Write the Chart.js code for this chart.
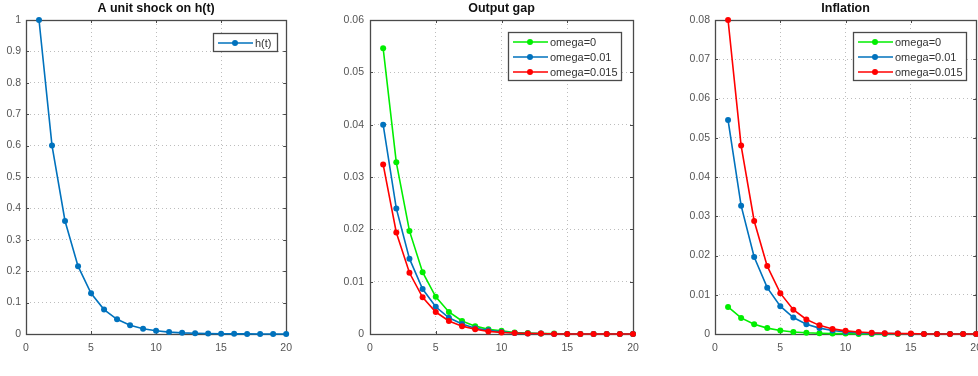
<!DOCTYPE html>
<html>
<head>
<meta charset="utf-8">
<script src="https://cdn.jsdelivr.net/npm/chart.js@4.4.1/dist/chart.umd.min.js"></script>
<style>
  html, body { margin: 0; padding: 0; background: #fff; overflow: hidden; }
  body { width: 978px; height: 376px; position: relative; }
  .painel { position: absolute; top: 0; height: 376px; }
</style>
</head>
<body>
<div class="painel" style="left:0;width:300px"><canvas id="g1"></canvas></div>
<div class="painel" style="left:330px;width:320px"><canvas id="g2"></canvas></div>
<div class="painel" style="left:680px;width:310px"><canvas id="g3"></canvas></div>
<script>
// dados
const periodos = [1, 2, 3, 4, 5, 6, 7, 8, 9, 10, 11, 12, 13, 14, 15, 16, 17, 18, 19, 20];

const choqueH = [1, 0.6, 0.36, 0.216, 0.1296, 0.0778, 0.0467, 0.028, 0.0168, 0.0101,
  0.006, 0.0036, 0.0022, 0.0013, 0.0008, 0.0005, 0.0003, 0.0002, 0.0001, 0.0001];

const hiatoOmega0 = [0.0546, 0.0328, 0.0197, 0.0118, 0.0071, 0.0042, 0.0025, 0.0015, 0.0009, 0.0006,
  0.0003, 0.0002, 0.0001, 0.0001, 0, 0, 0, 0, 0, 0];
const hiatoOmega001 = [0.0400, 0.0240, 0.0144, 0.0086, 0.0052, 0.0031, 0.0019, 0.0011, 0.0007, 0.0004,
  0.0002, 0.0001, 0.0001, 0, 0, 0, 0, 0, 0, 0];
const hiatoOmega0015 = [0.0324, 0.0194, 0.0117, 0.0070, 0.0042, 0.0025, 0.0015, 0.0009, 0.0005, 0.0003,
  0.0002, 0.0001, 0.0001, 0, 0, 0, 0, 0, 0, 0];

const inflOmega0 = [0.0069, 0.0041, 0.0025, 0.0015, 0.0009, 0.0005, 0.0003, 0.0002, 0.0001, 0.0001,
  0, 0, 0, 0, 0, 0, 0, 0, 0, 0];
const inflOmega001 = [0.0545, 0.0327, 0.0196, 0.0118, 0.0071, 0.0042, 0.0025, 0.0015, 0.0009, 0.0005,
  0.0003, 0.0002, 0.0001, 0.0001, 0, 0, 0, 0, 0, 0];
const inflOmega0015 = [0.0800, 0.0480, 0.0288, 0.0173, 0.0104, 0.0062, 0.0037, 0.0022, 0.0013, 0.0008,
  0.0005, 0.0003, 0.0002, 0.0001, 0.0001, 0, 0, 0, 0, 0];

const titulos = ['A unit shock on h(t)', 'Output gap', 'Inflation'];
const nomesSeries = ['omega=0', 'omega=0.01', 'omega=0.015'];

const ticksX = [0, 5, 10, 15, 20];
const rotulosX = ['0', '5', '10', '15', '20'];
const ticksY1 = [0, 0.1, 0.2, 0.3, 0.4, 0.5, 0.6, 0.7, 0.8, 0.9, 1];
const rotulosY1 = ['0', '0.1', '0.2', '0.3', '0.4', '0.5', '0.6', '0.7', '0.8', '0.9', '1'];
const ticksY2 = [0, 0.01, 0.02, 0.03, 0.04, 0.05, 0.06];
const rotulosY2 = ['0', '0.01', '0.02', '0.03', '0.04', '0.05', '0.06'];
const ticksY3 = [0, 0.01, 0.02, 0.03, 0.04, 0.05, 0.06, 0.07, 0.08];
const rotulosY3 = ['0', '0.01', '0.02', '0.03', '0.04', '0.05', '0.06', '0.07', '0.08'];

const AZUL = '#0072BD';
const VERDE = '#00ee00';
const VERMELHO = '#ff0000';
const FONTE = '"Liberation Sans", Arial, sans-serif';
const COR_EIXO = '#4a4a4a';

function pontos(valores) {
  return periodos.map((p, i) => ({ x: p, y: valores[i] }));
}

function serie(nome, valores, cor, ordem) {
  return {
    label: nome,
    data: pontos(valores),
    borderColor: cor,
    backgroundColor: cor,
    borderWidth: 1.6,
    pointRadius: 3,
    pointBorderWidth: 0,
    pointHoverRadius: 3,
    tension: 0,
    clip: false,
    order: ordem
  };
}

// moldura, marcas internas, título e legenda ao estilo do MATLAB
const moldura = {
  id: 'moldura',
  beforeDatasetsDraw(chart, args, opts) {
    const { ctx, chartArea: a } = chart;
    const sx = chart.scales.x, sy = chart.scales.y;
    ctx.save();
    ctx.strokeStyle = COR_EIXO;
    ctx.lineWidth = 1.3;
    ctx.strokeRect(Math.round(a.left) + 0.5, Math.round(a.top) + 0.5,
      Math.round(a.right - a.left), Math.round(a.bottom - a.top));
    ctx.lineWidth = 1;
    ctx.beginPath();
    sx.ticks.forEach(t => {
      const x = Math.round(sx.getPixelForValue(t.value)) + 0.5;
      ctx.moveTo(x, a.bottom); ctx.lineTo(x, a.bottom - 3);
      ctx.moveTo(x, a.top); ctx.lineTo(x, a.top + 3);
    });
    sy.ticks.forEach(t => {
      const y = Math.round(sy.getPixelForValue(t.value)) + 0.5;
      ctx.moveTo(a.left, y); ctx.lineTo(a.left + 3, y);
      ctx.moveTo(a.right, y); ctx.lineTo(a.right - 3, y);
    });
    ctx.stroke();
    ctx.restore();
  },
  afterDraw(chart, args, opts) {
    const { ctx, chartArea: a } = chart;
    ctx.save();
    ctx.fillStyle = '#111';
    ctx.font = 'bold 12.5px ' + FONTE;
    ctx.textAlign = 'center';
    ctx.textBaseline = 'middle';
    ctx.fillText(opts.titulo, (a.left + a.right) / 2, 9);

    const lg = opts.legenda;
    const itens = chart.data.datasets;
    const alt = 3 + 15 * itens.length;
    ctx.fillStyle = '#fff';
    ctx.fillRect(lg.x, lg.y, lg.w, alt);
    ctx.strokeStyle = COR_EIXO;
    ctx.lineWidth = 1.3;
    ctx.strokeRect(lg.x + 0.5, lg.y + 0.5, lg.w, alt);
    ctx.font = '11px ' + FONTE;
    ctx.textAlign = 'left';
    itens.forEach((d, i) => {
      const y = lg.y + 10 + 15 * i;
      ctx.strokeStyle = d.borderColor;
      ctx.lineWidth = 1.6;
      ctx.beginPath();
      ctx.moveTo(lg.x + 5, y);
      ctx.lineTo(lg.x + 40, y);
      ctx.stroke();
      ctx.fillStyle = d.borderColor;
      ctx.beginPath();
      ctx.arc(lg.x + 22, y, 3, 0, Math.PI * 2);
      ctx.fill();
      ctx.fillStyle = '#333';
      ctx.fillText(d.label, lg.x + 42, y + 0.5);
    });
    ctx.restore();
  }
};

function painel(id, larguraCanvas, datasets, ticksY, rotulosY, maxY, larguraY, padRotY, padDir, titulo, legenda) {
  const canvas = document.getElementById(id);
  canvas.width = larguraCanvas;
  canvas.height = 376;
  return new Chart(canvas, {
    type: 'line',
    data: { datasets: datasets },
    options: {
      responsive: false,
      animation: false,
      layout: { padding: { top: 20, right: padDir, left: 0, bottom: 0 } },
      plugins: {
        legend: { display: false },
        tooltip: { enabled: false },
        moldura: { titulo: titulo, legenda: legenda }
      },
      scales: {
        x: {
          type: 'linear',
          min: 0,
          max: 20,
          afterBuildTicks: ax => { ax.ticks = ticksX.map(v => ({ value: v })); },
          afterFit: ax => { ax.height = 42; },
          ticks: {
            callback: (v, i) => rotulosX[i],
            font: { family: FONTE, size: 10.5 },
            color: '#555',
            padding: 8,
            maxRotation: 0
          },
          grid: { color: '#bdbdbd', drawTicks: false, lineWidth: 1 },
          border: { display: false, dash: [1, 3] }
        },
        y: {
          min: 0,
          max: maxY,
          afterBuildTicks: ax => { ax.ticks = ticksY.map(v => ({ value: v })); },
          afterFit: ax => { ax.width = larguraY; },
          ticks: {
            callback: (v, i) => rotulosY[i],
            font: { family: FONTE, size: 10.5 },
            color: '#555',
            padding: padRotY
          },
          grid: { color: '#bdbdbd', drawTicks: false, lineWidth: 1 },
          border: { display: false, dash: [1, 3] }
        }
      }
    },
    plugins: [moldura]
  });
}

painel('g1', 300,
  [serie('h(t)', choqueH, AZUL, 0)],
  ticksY1, rotulosY1, 1, 26, 5, 12, titulos[0],
  { x: 213, y: 33, w: 64 });

painel('g2', 320,
  [serie(nomesSeries[0], hiatoOmega0, VERDE, 2),
   serie(nomesSeries[1], hiatoOmega001, AZUL, 1),
   serie(nomesSeries[2], hiatoOmega0015, VERMELHO, 0)],
  ticksY2, rotulosY2, 0.06, 40, 6, 17, titulos[1],
  { x: 178, y: 32, w: 113 });

painel('g3', 310,
  [serie(nomesSeries[0], inflOmega0, VERDE, 2),
   serie(nomesSeries[1], inflOmega001, AZUL, 1),
   serie(nomesSeries[2], inflOmega0015, VERMELHO, 0)],
  ticksY3, rotulosY3, 0.08, 35, 5, 13, titulos[2],
  { x: 173, y: 32, w: 113 });
</script>
</body>
</html>
